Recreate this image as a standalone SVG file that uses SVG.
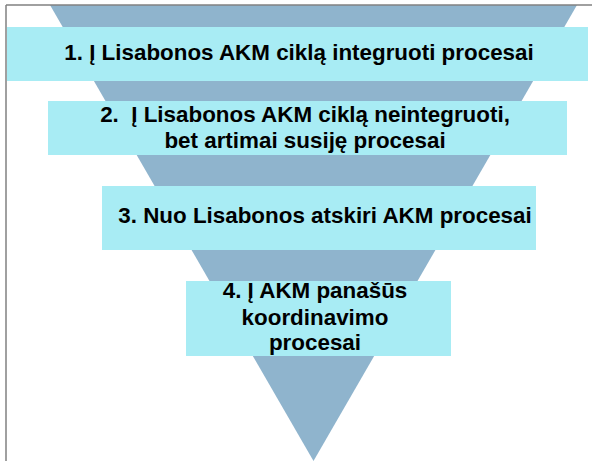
<svg xmlns="http://www.w3.org/2000/svg" width="592" height="461" viewBox="0 0 592 461">
  <style>
    .band { fill: #A8ECF4; }
    .label { font-family: "Liberation Sans", Arial, sans-serif; font-weight: bold; font-size: 22.4px; fill: #000; text-anchor: middle; }
  </style>
  <rect x="0" y="0" width="592" height="461" fill="#fff"/>
  <!-- inverted funnel -->
  <polygon points="50,5 577,5 313.5,461" fill="#8FB4CD"/>
  <!-- frame edges -->
  <line x1="6" y1="5" x2="592" y2="5" stroke="#808080" stroke-width="1.5"/>
  <line x1="6" y1="5" x2="6" y2="461" stroke="#808080" stroke-width="1.5"/>

  <g id="level1">
    <rect class="band" x="7" y="27" width="581" height="54"/>
    <text class="label" x="299" y="60">1. Į Lisabonos AKM ciklą integruoti procesai</text>
  </g>
  <g id="level2">
    <rect class="band" x="48" y="101" width="519" height="54"/>
    <text class="label" x="305" y="122" xml:space="preserve">2.  Į Lisabonos AKM ciklą neintegruoti,</text>
    <text class="label" x="305" y="148">bet artimai susiję procesai</text>
  </g>
  <g id="level3">
    <rect class="band" x="102" y="186" width="434" height="64"/>
    <text class="label" x="325" y="223">3. Nuo Lisabonos atskiri AKM procesai</text>
  </g>
  <g id="level4">
    <rect class="band" x="186" y="281" width="265" height="75"/>
    <text class="label" x="315" y="298">4. Į AKM panašūs</text>
    <text class="label" x="315" y="325">koordinavimo</text>
    <text class="label" x="315" y="350">procesai</text>
  </g>
  <g id="connectors"/>
</svg>
